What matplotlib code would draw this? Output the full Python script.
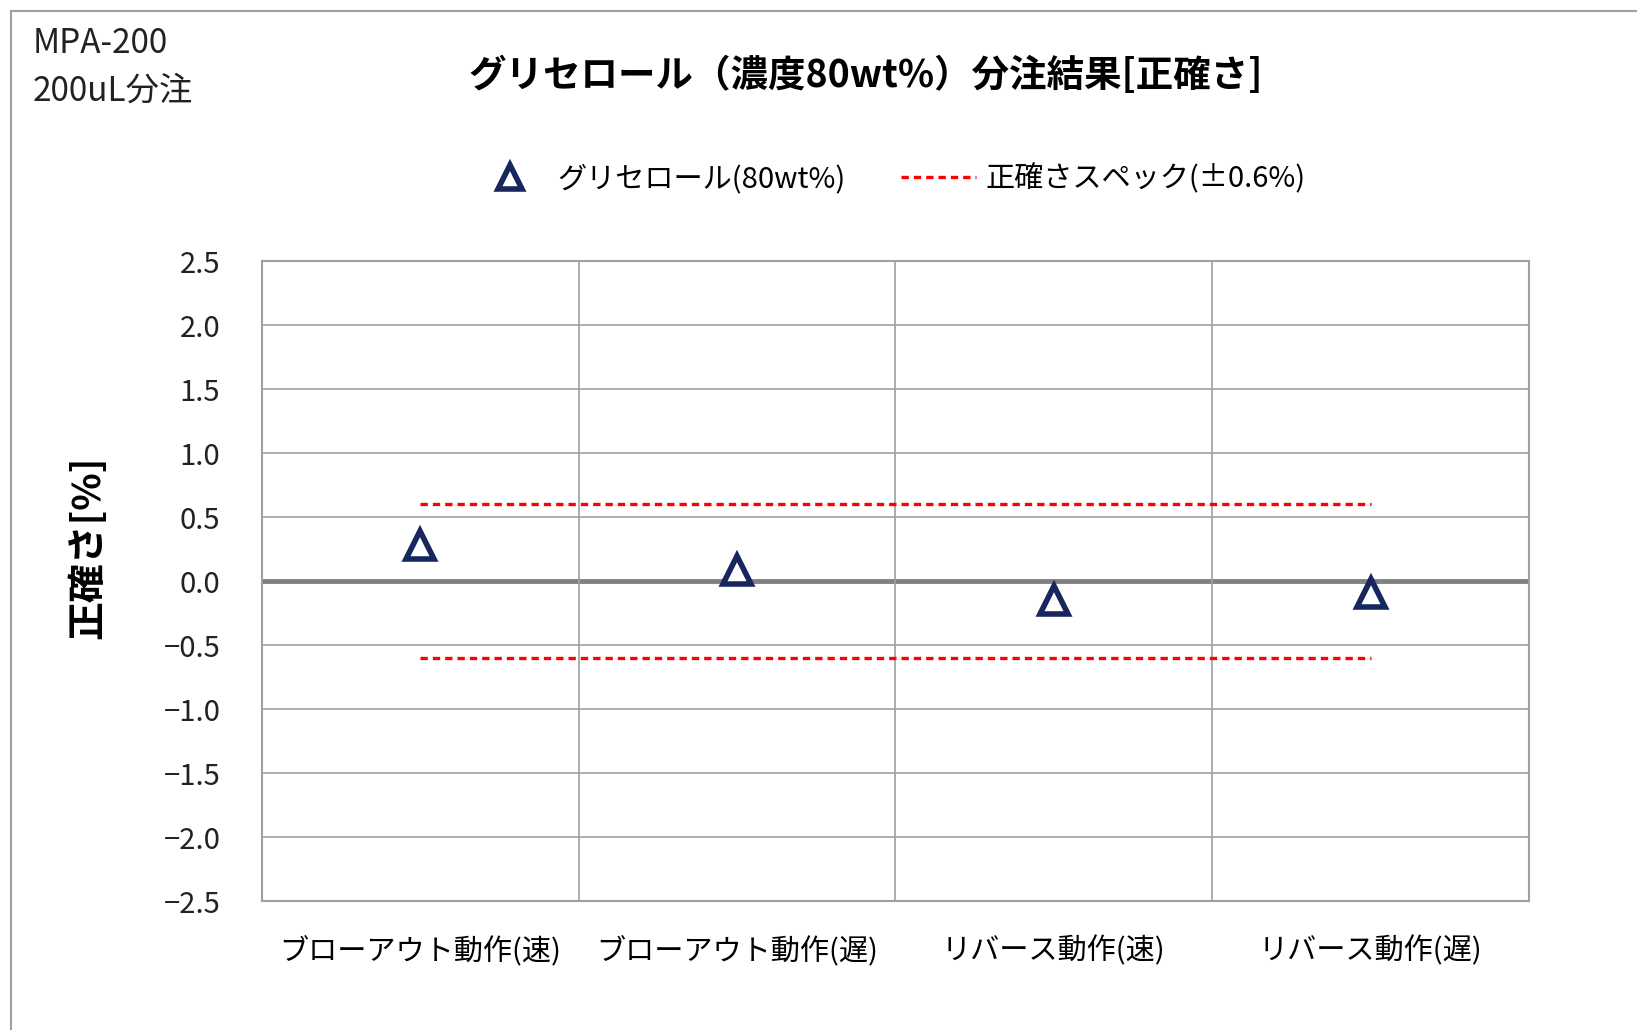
import matplotlib
matplotlib.use('Agg')
import matplotlib.pyplot as plt
from matplotlib.patches import Rectangle

plt.rcParams['font.family'] = ['Noto Sans CJK JP', 'DejaVu Sans']
plt.rcParams['axes.unicode_minus'] = False

# データ
categories = ['ブローアウト動作(速)', 'ブローアウト動作(遅)', 'リバース動作(速)', 'リバース動作(遅)']
accuracy = [0.28, 0.09, -0.15, -0.09]   # 正確さ[%]
spec_upper = [0.6, 0.6, 0.6, 0.6]
spec_lower = [-0.6, -0.6, -0.6, -0.6]
y_ticks = [2.5, 2.0, 1.5, 1.0, 0.5, 0.0, -0.5, -1.0, -1.5, -2.0, -2.5]

fig = plt.figure(figsize=(16.37, 10.30), dpi=100)
ax = fig.add_axes([0.160, 0.1252, 0.774, 0.6214])

x = list(range(1, len(categories) + 1))

# 外枠（右・下は切れている）
fig.patches.append(Rectangle((10.5 / 1637, -0.1), 1.2, 1.1 - 10.5 / 1030,
                             transform=fig.transFigure, fill=False,
                             edgecolor='#A0A0A0', linewidth=1.5))

# グリッド
for yv in y_ticks:
    if yv == 0:
        ax.axhline(yv, color='#808080', linewidth=3.5, zorder=1)
    else:
        ax.axhline(yv, color='#A0A0A0', linewidth=1.2, zorder=1)
for xv in [1.5, 2.5, 3.5]:
    ax.axvline(xv, color='#A0A0A0', linewidth=1.2, zorder=1)

ax.plot(x, spec_upper, color='#FF0000', linewidth=2.4, dashes=(2.2, 1.5),
        label='正確さスペック(±0.6%)', zorder=2)
ax.plot(x, spec_lower, color='#FF0000', linewidth=2.4, dashes=(2.2, 1.5), zorder=2)
ax.plot(x, accuracy, linestyle='none', marker='^', markersize=20,
        markerfacecolor='white', markeredgecolor='#17275E', markeredgewidth=4,
        label='グリセロール(80wt%)', zorder=3)

ax.set_xlim(0.5, 4.5)
ax.set_ylim(-2.5, 2.5)
ax.set_xticks(x)
ax.set_xticklabels(categories, fontsize=21)
ax.set_yticks(y_ticks)
ax.set_yticklabels(['%.1f' % v if v >= 0 else '−%.1f' % abs(v) for v in y_ticks],
                   fontsize=21, color='#222222')
ax.tick_params(axis='y', length=0, pad=30)
ax.tick_params(axis='x', length=0, pad=25)
for s in ax.spines.values():
    s.set_color('#A0A0A0')
    s.set_linewidth(1.5)

ax.set_ylabel('正確さ[%]', fontsize=28, fontweight='bold')
ax.yaxis.set_label_coords(-0.122, 0.552)

fig.text(0.529, 0.927, 'グリセロール（濃度80wt%）分注結果[正確さ]',
         fontsize=27, fontweight='bold', ha='center', va='center')
fig.text(0.020, 0.958, 'MPA-200', fontsize=24, ha='left', va='center', color='#222222')
fig.text(0.020, 0.911, '200uL分注', fontsize=24, ha='left', va='center', color='#222222')

h, l = ax.get_legend_handles_labels()
fig.legend([h[1], h[0]], [l[1], l[0]], loc='center', bbox_to_anchor=(0.543, 0.826),
           ncol=2, frameon=False, fontsize=21, handlelength=2.6,
           columnspacing=1.9, handletextpad=0.3, markerscale=0.85)

fig.savefig('out.png', dpi=100, facecolor='white')
